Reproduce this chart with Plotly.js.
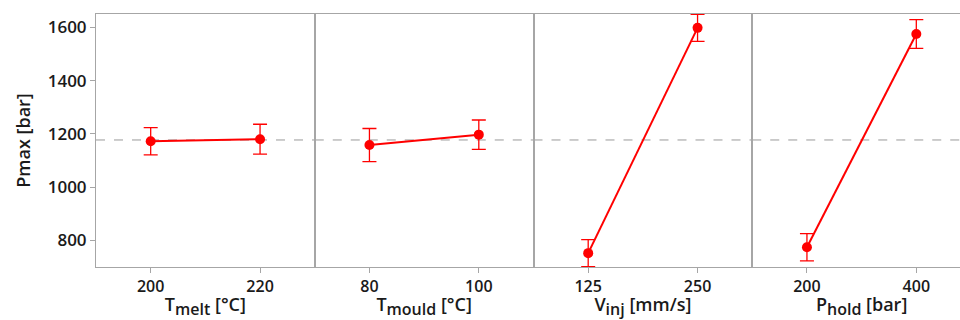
<!DOCTYPE html>
<html>
<head>
<meta charset="utf-8">
<script src="https://cdn.plot.ly/plotly-3.0.1.min.js"></script>
<style>html,body{margin:0;padding:0;overflow:hidden;background:#fff;}</style>
</head>
<body>
<div id="chart"></div>
<script>
// Factor levels and mean Pmax [bar] with error bar half-widths
const factorNames = ["T", "T", "V", "P"];
const factorSubs = ["melt", "mould", "inj", "hold"];
const factorUnits = ["[°C]", "[°C]", "[mm/s]", "[bar]"];
const levelsMelt = [200, 220];
const meansMelt = [1172, 1180];
const errMelt = [51, 56];
const levelsMould = [80, 100];
const meansMould = [1158, 1197];
const errMould = [62, 55];
const levelsInj = [125, 250];
const meansInj = [752, 1598];
const errInj = [51, 51];
const levelsHold = [200, 400];
const meansHold = [774, 1575];
const errHold = [51, 54];
const grandMean = 1177;
const yTicks = [800, 1000, 1200, 1400, 1600];

const panels = [
  {x: levelsMelt, y: meansMelt, e: errMelt},
  {x: levelsMould, y: meansMould, e: errMould},
  {x: levelsInj, y: meansInj, e: errInj},
  {x: levelsHold, y: meansHold, e: errHold}
];

const red = "#ff0000";
const gray = "#a6a6a6";
const txt = "#1a1a1a";
const fontFam = "'Open Sans', 'Noto Sans', sans-serif";

const traces = [];
const layout = {
  width: 971, height: 320,
  margin: {l: 96, r: 0, t: 14, b: 53},
  paper_bgcolor: "#fff", plot_bgcolor: "#fff",
  showlegend: false,
  font: {family: fontFam, color: txt, size: 16},
  shapes: []
};

panels.forEach((p, i) => {
  const n = i + 1;
  const xa = n === 1 ? "x" : "x" + n;
  const ya = n === 1 ? "y" : "y" + n;
  traces.push({
    type: "scatter", mode: "lines+markers",
    x: p.x, y: p.y, xaxis: xa, yaxis: ya,
    line: {color: red, width: 2},
    marker: {color: red, size: 10},
    error_y: {type: "data", array: p.e, visible: true, color: red, thickness: 1.3, width: 7}
  });
  const span = p.x[1] - p.x[0];
  const title = factorNames[i] + "<sub><span style='font-size:16px'>" + factorSubs[i] + "</span></sub> " + factorUnits[i];
  layout["xaxis" + (n === 1 ? "" : n)] = {
    domain: [i * 0.25, (i + 1) * 0.25],
    anchor: ya,
    range: [p.x[0] - span / 2, p.x[1] + span / 2],
    tickvals: p.x,
    ticktext: p.x.map(String),
    ticks: "outside", ticklen: 5, tickcolor: gray, tickwidth: 1,
    showline: true, linecolor: gray, linewidth: 1, mirror: true,
    showgrid: false, zeroline: false,
    tickfont: {size: 16, color: txt, weight: 600},
    title: {text: title, font: {size: 18, color: txt, weight: 600}, standoff: 4}
  };
  layout["yaxis" + (n === 1 ? "" : n)] = {
    anchor: xa,
    range: [700, 1650],
    tickvals: yTicks,
    ticks: n === 1 ? "outside" : "",
    ticklen: 5, tickcolor: gray,
    showticklabels: n === 1,
    showline: true, linecolor: gray, linewidth: 1, mirror: true,
    showgrid: false, zeroline: false,
    tickfont: {size: 17, color: txt, weight: 600},
    title: n === 1 ? {text: "Pmax [bar]", font: {size: 18, color: txt, weight: 600}, standoff: 12} : undefined
  };
  if (n !== 1) layout["yaxis" + n].matches = "y";
  layout.shapes.push({
    type: "line", xref: xa + " domain", yref: ya,
    x0: 0, x1: 1, y0: grandMean, y1: grandMean,
    line: {color: "#999999", width: 1, dash: "dash"},
    layer: "below"
  });
});

Plotly.newPlot("chart", traces, layout, {displayModeBar: false, staticPlot: true});
</script>
</body>
</html>
